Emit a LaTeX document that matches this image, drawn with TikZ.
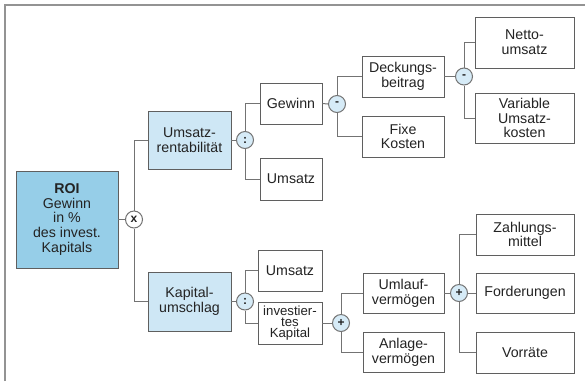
\documentclass[tikz,border=0pt]{standalone}
\usepackage{fontspec}
\setmainfont{Liberation Sans}
\definecolor{roiblue}{RGB}{150,206,232}
\definecolor{lightblue}{RGB}{206,231,245}
\definecolor{opblue}{RGB}{214,235,247}
\definecolor{boxline}{RGB}{95,95,95}
\definecolor{conline}{RGB}{115,115,115}
\definecolor{txt}{RGB}{35,35,35}
\begin{document}
\begin{tikzpicture}[x=1pt,y=-1pt,
  base/.style={draw=boxline, line width=0.9pt, align=center, inner sep=0pt, text=txt,
    font=\fontsize{14.2}{14.7}\selectfont},
  wbox/.style={base, fill=white},
  bbox/.style={base, fill=lightblue},
  op/.style={circle, draw=conline, line width=1pt, fill=opblue, minimum size=17pt, inner sep=0pt,
    font=\fontsize{12}{12}\selectfont\bfseries, text=txt},
  con/.style={draw=conline, line width=1pt}]
\useasboundingbox (0,0) rectangle (585,381);
\fill[white] (0,0) rectangle (585,381);
\draw[color=gray!85, line width=2pt] (4.5,381) -- (4.5,4.5) -- (585,4.5);

% boxes
\node[base, fill=roiblue, minimum width=102pt, minimum height=97pt] (roi) at (67,219.5)
  {\textbf{ROI}\\Gewinn\\in \%\\des invest.\\Kapitals};
\node[bbox, minimum width=83pt, minimum height=58pt] (urent) at (189.5,140) {Umsatz-\\rentabilität};
\node[bbox, minimum width=83pt, minimum height=59pt] (kapu) at (189.5,301.5) {Kapital-\\umschlag};
\node[wbox, minimum width=62pt, minimum height=41pt] (gew) at (291,103.5) {Gewinn};
\node[wbox, minimum width=62pt, minimum height=42pt] (ums1) at (291,179) {Umsatz};
\node[wbox, minimum width=64pt, minimum height=41pt] (ums2) at (290,270.5) {Umsatz};
\node[wbox, minimum width=64pt, minimum height=42pt, font=\fontsize{13.2}{11.4}\selectfont] (ikap) at (290,323)
  {investier-\\tes\\Kapital};
\node[wbox, minimum width=82pt, minimum height=41pt] (db) at (403,76.5) {Deckungs-\\beitrag};
\node[wbox, minimum width=82pt, minimum height=41pt] (fk) at (403,136.5) {Fixe\\Kosten};
\node[wbox, minimum width=99pt, minimum height=51pt] (netto) at (524.5,42.5) {Netto-\\umsatz};
\node[wbox, minimum width=99pt, minimum height=50pt] (var) at (524.5,118) {Variable\\Umsatz-\\kosten};
\node[wbox, minimum width=81pt, minimum height=40pt] (ulv) at (403.5,293) {Umlauf-\\vermögen};
\node[wbox, minimum width=81pt, minimum height=40pt] (alv) at (403.5,352) {Anlage-\\vermögen};
\node[wbox, minimum width=98pt, minimum height=41pt] (zm) at (525,234.5) {Zahlungs-\\mittel};
\node[wbox, minimum width=98pt, minimum height=40pt] (ford) at (525,293) {Forderungen};
\node[wbox, minimum width=98pt, minimum height=41pt] (vor) at (525,352.5) {Vorräte};

% operators
\node[op, fill=white] (ox) at (134,219.5) {x};
\node[op] (od1) at (245,140) {:};
\node[op] (om1) at (337,104) {-};
\node[op] (om2) at (464,76.5) {-};
\node[op] (od2) at (245,301.5) {:};
\node[op] (op1) at (341,323) {+};
\node[op] (op2) at (459,293) {+};

% connectors
\draw[con] (roi.east) -- (ox.west);
\draw[con] (ox.north) |- (urent.west);
\draw[con] (ox.south) |- (kapu.west);
\draw[con] (urent.east) -- (od1.west);
\draw[con] (od1.north) |- (gew.west);
\draw[con] (od1.south) |- (ums1.west);
\draw[con] (gew.east) -- (om1.west);
\draw[con] (om1.north) |- (db.west);
\draw[con] (om1.south) |- (fk.west);
\draw[con] (db.east) -- (om2.west);
\draw[con] (om2.north) |- (netto.west);
\draw[con] (om2.south) |- (var.west);
\draw[con] (kapu.east) -- (od2.west);
\draw[con] (od2.north) |- (ums2.west);
\draw[con] (od2.south) |- (ikap.west);
\draw[con] (ikap.east) -- (op1.west);
\draw[con] (op1.north) |- (ulv.west);
\draw[con] (op1.south) |- (alv.west);
\draw[con] (ulv.east) -- (op2.west);
\draw[con] (op2.north) |- (zm.west);
\draw[con] (op2.south) |- (vor.west);
\draw[con] (op2.east) -- (ford.west);
\end{tikzpicture}
\end{document}
